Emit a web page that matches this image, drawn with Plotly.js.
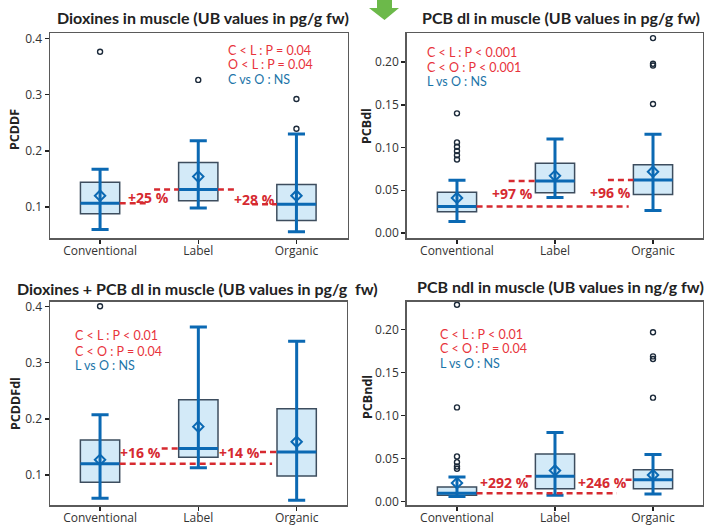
<!DOCTYPE html>
<html><head><meta charset="utf-8">
<script src="https://cdn.plot.ly/plotly-3.0.1.min.js"></script>
<style>html,body{margin:0;padding:0;background:#fff}</style>
</head><body><div id="chart" style="width:704px;height:526px"></div>
<script>
const categories = ['Conventional', 'Label', 'Organic'];

// Panel 1: Dioxines (PCDDF)
const pcddfLower = [0.060, 0.098, 0.056];
const pcddfQ1 = [0.088, 0.111, 0.076];
const pcddfMedian = [0.1065, 0.131, 0.105];
const pcddfQ3 = [0.144, 0.179, 0.140];
const pcddfUpper = [0.167, 0.218, 0.230];
const pcddfMean = [0.120, 0.154, 0.120];
const pcddfOutlierGroup = [0, 1, 2, 2];
const pcddfOutliers = [0.376, 0.326, 0.292, 0.239];
const pcddfPct = ['+25 %', '+28 %'];
const pcddfStats = ['C < L : P = 0.04', 'O < L : P = 0.04', 'C vs O : NS'];

// Panel 2: PCB dl
const pcbdlLower = [0.0136, 0.0417, 0.0265];
const pcbdlQ1 = [0.025, 0.0472, 0.0452];
const pcbdlMedian = [0.031, 0.061, 0.062];
const pcbdlQ3 = [0.0476, 0.0815, 0.080];
const pcbdlUpper = [0.0616, 0.110, 0.1154];
const pcbdlMean = [0.041, 0.067, 0.0717];
const pcbdlOutlierGroup = [0, 0, 0, 0, 0, 0, 2, 2, 2, 2];
const pcbdlOutliers = [0.140, 0.106, 0.101, 0.096, 0.091, 0.086, 0.228, 0.198, 0.196, 0.151];
const pcbdlPct = ['+97 %', '+96 %'];
const pcbdlStats = ['C < L : P < 0.001', 'C < O : P < 0.001', 'L vs O : NS'];

// Panel 3: Dioxines + PCB dl (PCDDFdl)
const pcddfdlLower = [0.0586, 0.113, 0.055];
const pcddfdlQ1 = [0.087, 0.1315, 0.098];
const pcddfdlMedian = [0.120, 0.147, 0.141];
const pcddfdlQ3 = [0.162, 0.234, 0.218];
const pcddfdlUpper = [0.207, 0.363, 0.338];
const pcddfdlMean = [0.127, 0.186, 0.159];
const pcddfdlOutlierGroup = [0];
const pcddfdlOutliers = [0.400];
const pcddfdlPct = ['+16 %', '+14 %'];
const pcddfdlStats = ['C < L : P < 0.01', 'C < O : P = 0.04', 'L vs O : NS'];

// Panel 4: PCB ndl
const pcbndlLower = [0.0062, 0.0074, 0.0089];
const pcbndlQ1 = [0.0074, 0.0151, 0.0151];
const pcbndlMedian = [0.010, 0.0295, 0.0256];
const pcbndlQ3 = [0.017, 0.0554, 0.0372];
const pcbndlUpper = [0.0287, 0.0806, 0.055];
const pcbndlMean = [0.0217, 0.0364, 0.031];
const pcbndlOutlierGroup = [0, 0, 0, 0, 0, 0, 2, 2, 2, 2];
const pcbndlOutliers = [0.229, 0.1097, 0.0527, 0.046, 0.041, 0.0384, 0.197, 0.169, 0.166, 0.121];
const pcbndlPct = ['+292 %', '+246 %'];
const pcbndlStats = ['C < L : P < 0.01', 'C < O : P = 0.04', 'L vs O : NS'];

const titles = [
  'Dioxines in muscle (UB values in pg/g fw)',
  'PCB dl in muscle (UB values in pg/g fw)',
  'Dioxines + PCB dl in muscle (UB values in pg/g  fw)',
  'PCB ndl in muscle (UB values in ng/g fw)'
];
const yTitles = ['PCDDF', 'PCBdl', 'PCDDFdl', 'PCBndl'];

// ---------- styling / layout config ----------
const W = 704, H = 526;
const BLUE = '#0b69b3', BOXLINE = '#3d4d5e', BOXFILL = '#d3eaf8';
const RED = '#d62a30', STATRED = '#e8333c', STATBLUE = '#1b74a8';
const FONT = 'Open Sans, Noto Sans, sans-serif';
const TFONT = 'Lato, Open Sans, sans-serif';
const px = v => v / W, py = v => 1 - v / H;

const panels = [
  { lower: pcddfLower, q1: pcddfQ1, med: pcddfMedian, q3: pcddfQ3, upper: pcddfUpper, mean: pcddfMean,
    og: pcddfOutlierGroup, out: pcddfOutliers, pct: pcddfPct, stats: pcddfStats,
    box: [50, 347.5, 33.3, 238], xr: [-0.51, 2.52], yr: [0.0448, 0.4089], dtick: 0.1, fmt: '.1f',
    refs: [{g: 0, x0: 0.2, x1: 0.476}, {g: 1, x0: 0.55, x1: 0.8}, {g: 1, x0: 1.2, x1: 1.378}, {g: 2, x0: 1.548, x1: 1.8}],
    pctPos: [[0.49, 0.1153], [1.57, 0.112]],
    statPos: [226, [50, 64.5, 80]], titlePos: [203, 18], yTitlePos: [15, 129] },
  { lower: pcbdlLower, q1: pcbdlQ1, med: pcbdlMedian, q3: pcbdlQ3, upper: pcbdlUpper, mean: pcbdlMean,
    og: pcbdlOutlierGroup, out: pcbdlOutliers, pct: pcbdlPct, stats: pcbdlStats,
    box: [406.7, 702.7, 33.3, 238], xr: [-0.513, 2.507], yr: [-0.0058, 0.2336], dtick: 0.05, fmt: '.2f',
    refs: [{g: 0, x0: 0.2, x1: 1.752}, {g: 1, x0: 0.527, x1: 0.8}, {g: 2, x0: 1.54, x1: 1.8}],
    pctPos: [[0.57, 0.0453], [1.565, 0.0464]],
    statPos: [425, [52.3, 67.7, 81.7]], titlePos: [561, 18], yTitlePos: [367, 126] },
  { lower: pcddfdlLower, q1: pcddfdlQ1, med: pcddfdlMedian, q3: pcddfdlQ3, upper: pcddfdlUpper, mean: pcddfdlMean,
    og: pcddfdlOutlierGroup, out: pcddfdlOutliers, pct: pcddfdlPct, stats: pcddfdlStats,
    box: [50, 346.7, 301.7, 505], xr: [-0.509, 2.509], yr: [0.0466, 0.4082], dtick: 0.1, fmt: '.1f',
    refs: [{g: 0, x0: 0.2, x1: 1.75}, {g: 1, x0: 0.627, x1: 0.8}, {g: 2, x0: 1.627, x1: 1.8}],
    pctPos: [[0.407, 0.139], [1.417, 0.139]],
    statPos: [73, [335.7, 351, 365.7]], titlePos: [197, 288], yTitlePos: [15, 403] },
  { lower: pcbndlLower, q1: pcbndlQ1, med: pcbndlMedian, q3: pcbndlQ3, upper: pcbndlUpper, mean: pcbndlMean,
    og: pcbndlOutlierGroup, out: pcbndlOutliers, pct: pcbndlPct, stats: pcbndlStats,
    box: [406.7, 702.7, 301.7, 505], xr: [-0.513, 2.507], yr: [-0.0038, 0.2326], dtick: 0.05, fmt: '.2f',
    refs: [{g: 0, x0: 0.2, x1: 1.63}, {g: 1, x0: 0.70, x1: 0.8}, {g: 2, x0: 1.72, x1: 1.8}],
    pctPos: [[0.48, 0.0217], [1.48, 0.0217]],
    statPos: [438, [334, 348.7, 363]], titlePos: [560, 286], yTitlePos: [367, 397] }
];

const traces = [];
const layout = {
  width: W, height: H, margin: {l: 0, r: 0, t: 0, b: 0},
  paper_bgcolor: '#fff', plot_bgcolor: '#fff', showlegend: false,
  font: {family: FONT, size: 12, color: '#333'},
  annotations: [], shapes: []
};
const CAP = 0.087, HALF = 0.2;

panels.forEach((p, i) => {
  const sfx = i === 0 ? '' : String(i + 1);
  const xa = 'x' + sfx, ya = 'y' + sfx;
  const pos = categories.map((c, k) => k);

  // boxes (fill + outline)
  traces.push({
    type: 'box', x: pos, q1: p.q1, median: p.med, q3: p.q3, lowerfence: p.q1, upperfence: p.q3,
    width: 0.4, whiskerwidth: 0, fillcolor: BOXFILL, line: {color: BOXLINE, width: 1.5},
    boxpoints: false, xaxis: xa, yaxis: ya, hoverinfo: 'skip'
  });

  // whiskers, caps, medians
  const wx = [], wy = [];
  pos.forEach(k => {
    wx.push(k, k, null); wy.push(p.lower[k], p.upper[k], null);
    wx.push(k - CAP, k + CAP, null); wy.push(p.lower[k], p.lower[k], null);
    wx.push(k - CAP, k + CAP, null); wy.push(p.upper[k], p.upper[k], null);
    wx.push(k - HALF, k + HALF, null); wy.push(p.med[k], p.med[k], null);
  });
  traces.push({type: 'scatter', mode: 'lines', x: wx, y: wy, xaxis: xa, yaxis: ya,
    line: {color: BLUE, width: 3}, connectgaps: false, hoverinfo: 'skip'});

  // reference (dashed red) lines at medians
  const rx = [], ry = [];
  p.refs.forEach(r => { rx.push(r.x0, r.x1, null); ry.push(p.med[r.g], p.med[r.g], null); });
  traces.push({type: 'scatter', mode: 'lines', x: rx, y: ry, xaxis: xa, yaxis: ya,
    line: {color: RED, width: 2.5, dash: '6px,4px'}, connectgaps: false, hoverinfo: 'skip'});

  // means
  traces.push({type: 'scatter', mode: 'markers', x: pos, y: p.mean, xaxis: xa, yaxis: ya,
    marker: {symbol: 'diamond-open', size: 8, color: BLUE, line: {width: 2, color: BLUE}}, hoverinfo: 'skip'});

  // outliers
  traces.push({type: 'scatter', mode: 'markers', x: p.og, y: p.out, xaxis: xa, yaxis: ya,
    marker: {symbol: 'circle-open', size: 5, color: '#1c2a3a', line: {width: 1.4, color: '#1c2a3a'}}, hoverinfo: 'skip'});

  const [l, r, t, b] = p.box;
  layout['xaxis' + sfx] = {
    domain: [px(l), px(r)], anchor: ya, range: p.xr, tickvals: pos, ticktext: categories,
    showline: true, mirror: true, linecolor: '#5a5a5a', linewidth: 1.5, showgrid: false, zeroline: false,
    ticks: 'outside', ticklen: 4, tickwidth: 1.5, tickcolor: '#222', ticklabelstandoff: -3,
    tickfont: {family: FONT, size: 12, color: '#333'}, fixedrange: true
  };
  layout['yaxis' + sfx] = {
    domain: [py(b), py(t)], anchor: xa, range: p.yr, tick0: 0, dtick: p.dtick, tickformat: p.fmt,
    showline: true, mirror: true, linecolor: '#5a5a5a', linewidth: 1.5, showgrid: false, zeroline: false,
    ticks: 'outside', ticklen: 4, tickwidth: 1.5, tickcolor: '#222',
    tickfont: {family: FONT, size: 12, color: '#333'}, fixedrange: true
  };

  // percentage labels
  p.pct.forEach((txt, j) => {
    layout.annotations.push({xref: xa, yref: ya, x: p.pctPos[j][0], y: p.pctPos[j][1], text: '<b>' + txt + '</b>',
      showarrow: false, font: {family: FONT, size: 14, color: RED}, xanchor: 'center', yanchor: 'middle', yshift: 1});
  });
  // stats text
  p.stats.forEach((txt, j) => {
    layout.annotations.push({xref: 'paper', yref: 'paper', x: px(p.statPos[0]), y: py(p.statPos[1][j]), text: txt,
      showarrow: false, font: {family: TFONT, size: 12.5, color: j < 2 ? STATRED : STATBLUE}, xanchor: 'left', yanchor: 'middle'});
  });
  // panel title
  layout.annotations.push({xref: 'paper', yref: 'paper', x: px(p.titlePos[0]), y: py(p.titlePos[1]),
    text: '<b>' + titles[i] + '</b>', showarrow: false, font: {family: TFONT, size: 16, color: '#222'},
    xanchor: 'center', yanchor: 'middle'});
  // y-axis title
  layout.annotations.push({xref: 'paper', yref: 'paper', x: px(p.yTitlePos[0]), y: py(p.yTitlePos[1]),
    text: '<b>' + yTitles[i] + '</b>', textangle: -90, showarrow: false, font: {family: FONT, size: 12.5, color: '#222'},
    xanchor: 'center', yanchor: 'middle'});
});

// green arrow (decoration at top)
const arrow = [[377, 0], [392, 0], [392, 8], [399, 8], [384.5, 20], [369, 8], [377, 8]];
layout.shapes.push({type: 'path', xref: 'paper', yref: 'paper',
  path: 'M' + arrow.map(a => px(a[0]) + ',' + py(a[1])).join(' L') + ' Z',
  fillcolor: '#6cb94a', line: {width: 0}});

Plotly.newPlot('chart', traces, layout, {staticPlot: true, displayModeBar: false});
</script></body></html>
